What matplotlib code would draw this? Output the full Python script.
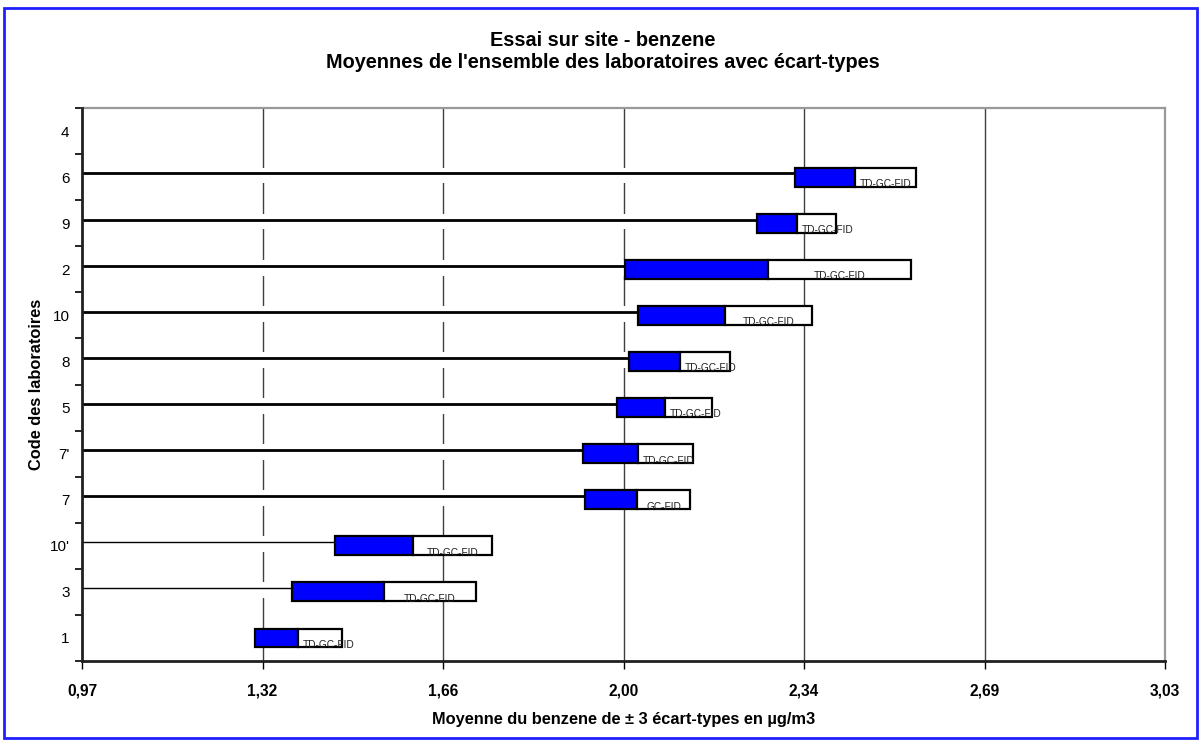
import numpy as np
import matplotlib
matplotlib.use("Agg")
import matplotlib.pyplot as plt
from matplotlib.patches import Rectangle

plt.rcParams['font.family'] = ['Liberation Sans', 'DejaVu Sans']

# Data (bottom to top)
labs = ["1", "3", "10'", "7", "7'", "5", "8", "10", "2", "9", "6", "4"]
means = [1.383, 1.546, 1.602, 2.028, 2.029, 2.080, 2.108, 2.194, 2.276, 2.331, 2.442, np.nan]
sds = [0.083, 0.175, 0.149, 0.099, 0.104, 0.090, 0.096, 0.165, 0.272, 0.075, 0.115, np.nan]
methods = ["TD-GC-FID", "TD-GC-FID", "TD-GC-FID", "GC-FID", "TD-GC-FID", "TD-GC-FID",
           "TD-GC-FID", "TD-GC-FID", "TD-GC-FID", "TD-GC-FID", "TD-GC-FID", ""]
xtick_labels = ["0,97", "1,32", "1,66", "2,00", "2,34", "2,69", "3,03"]
x_min, x_max = 0.972, 3.031

# styles
lead_lw = [0, 1, 1, 2, 2, 2, 2, 2, 2, 2, 2, 0]

fig = plt.figure(figsize=(12, 7.42), dpi=100)
ax = fig.add_axes([82/1200, 1-661/742, (1165-82)/1200, (661-108)/742])

xt = np.linspace(x_min, x_max, 7)
ax.set_xlim(x_min, x_max)
n = len(labs)
ax.set_ylim(-0.5, n-0.5)

for x in xt[1:-1]:
    ax.axvline(x, color='#404040', lw=1, zorder=0.5)

bh = 0.41
texts = []
for i, (m, s, meth) in enumerate(zip(means, sds, methods)):
    if np.isnan(m):
        continue
    top = i + bh/2
    start = m - s
    # hidden leading segment (white)
    ax.barh(top - 0.17, start - x_min, left=x_min, height=0.34, color='white',
            edgecolor='none', zorder=1)
    if lead_lw[i] > 0:
        ax.plot([x_min, start], [i + 0.08, i + 0.08], color='black',
                lw=lead_lw[i], solid_capstyle='butt', zorder=2)
    ax.barh(i, s, left=start, height=bh, color='#0000FF', edgecolor='black',
            lw=1.6, zorder=3)
    ax.barh(i, s, left=m, height=bh, color='white', edgecolor='black',
            lw=1.6, zorder=3)
    t = ax.text(m + s/2, i - bh/2 - 0.01, meth, ha='center', va='baseline',
                fontsize=7.3, color='#202020', zorder=4)
    texts.append((t, m, s))

ax.set_xticks(xt)
ax.set_xticklabels(xtick_labels, fontsize=11.2, fontweight='bold')
ax.set_yticks(np.arange(-0.5, n, 1.0))
ax.set_yticklabels([])
ax.set_yticks(np.arange(n), minor=True)
ax.set_yticklabels(labs, minor=True, fontsize=11)
ax.tick_params(axis='y', which='minor', length=0, pad=9)
ax.tick_params(axis='y', which='major', length=5, width=1.2, direction='out')
ax.tick_params(axis='x', length=6, width=1, direction='out', pad=10)

for sp in ['top', 'right']:
    ax.spines[sp].set_color('#999999')
    ax.spines[sp].set_linewidth(1.6)
ax.spines['left'].set_linewidth(2)
ax.spines['bottom'].set_linewidth(2)
ax.spines['left'].set_color('#202020')
ax.spines['bottom'].set_color('#202020')
ax.spines['left'].set_zorder(5)
ax.spines['bottom'].set_zorder(5)

ax.set_xlabel("Moyenne du benzene de ± 3 écart-types en µg/m3", fontsize=11.8,
              fontweight='bold', labelpad=10)
ax.set_ylabel("Code des laboratoires", fontsize=11.8, fontweight='bold', labelpad=4)

fig.text(0.502, 1-40/742, "Essai sur site - benzene", ha='center', va='center',
         fontsize=14.3, fontweight='bold')
fig.text(0.502, 1-63/742, "Moyennes de l'ensemble des laboratoires avec écart-types",
         ha='center', va='center', fontsize=14.3, fontweight='bold')

fig.patches.append(Rectangle((4/1200, 1-738/742), 1193/1200, 730/742,
                             transform=fig.transFigure, fill=False,
                             edgecolor='#2020FF', lw=2))

# Shift labels so they start a few pixels right of the mean when the box is narrow
fig.canvas.draw()
r = fig.canvas.get_renderer()
inv = ax.transData.inverted()
for t, m, s in texts:
    bb = t.get_window_extent(r)
    w_px = bb.width
    mx = ax.transData.transform((m, 0))[0]
    cx = ax.transData.transform((m + s/2, 0))[0]
    left = max(cx - w_px/2, mx + 5)
    newx = inv.transform((left + w_px/2, 0))[0]
    t.set_x(newx)

fig.savefig("out.png", dpi=100)
